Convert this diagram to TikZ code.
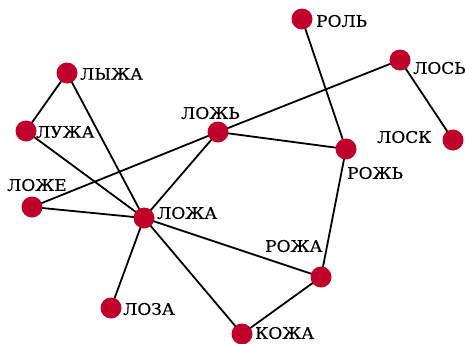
\documentclass[tikz,border=0pt]{standalone}
\usepackage{fontspec}
\setmainfont[FakeStretch=1.06,FakeBold=0.4]{DejaVu Serif}
\definecolor{nodered}{RGB}{192,0,42}
\begin{document}
\begin{tikzpicture}[x=1pt,y=-1pt,
  vtx/.style={circle,fill=nodered,draw=none,minimum size=21pt,inner sep=0pt},
  lbl/.style={inner sep=0pt,font=\fontsize{16}{16}\selectfont,anchor=west},
  edge/.style={line width=1.8pt,black}]
\useasboundingbox (0,0) rectangle (465,343);
\coordinate (pRol) at (302,19);
\coordinate (pLos) at (400,60);
\coordinate (pLosk) at (453,140);
\coordinate (pLyzha) at (67,73);
\coordinate (pLuzha) at (26,131);
\coordinate (pLozh) at (218,132);
\coordinate (pRozh) at (346,149);
\coordinate (pLozhe) at (32,207);
\coordinate (pLozha) at (144,218);
\coordinate (pRozha) at (321,277);
\coordinate (pLoza) at (111,308);
\coordinate (pKozha) at (242,334);
\draw[edge] (pLyzha) -- (pLuzha);
\draw[edge] (pLyzha) -- (pLozha);
\draw[edge] (pLuzha) -- (pLozha);
\draw[edge] (pLozhe) -- (pLozha);
\draw[edge] (pLozhe) -- (pLozh);
\draw[edge] (pLozh) -- (pLozha);
\draw[edge] (pLozh) -- (pLos);
\draw[edge] (pLozh) -- (pRozh);
\draw[edge] (pRol) -- (pRozh);
\draw[edge] (pLos) -- (pLosk);
\draw[edge] (pRozh) -- (pRozha);
\draw[edge] (pLozha) -- (pRozha);
\draw[edge] (pLozha) -- (pLoza);
\draw[edge] (pLozha) -- (pKozha);
\draw[edge] (pKozha) -- (pRozha);
\foreach \p in {pRol,pLos,pLosk,pLyzha,pLuzha,pLozh,pRozh,pLozhe,pLozha,pRozha,pLoza,pKozha}
  \node[vtx] (n\p) at (\p) {};
\node[lbl] (tRol) at (316,21) {РОЛЬ};
\node[lbl] (tLos) at (413,68) {ЛОСЬ};
\node[lbl] (tLosk) at (377,137) {ЛОСК};
\node[lbl] (tLyzha) at (80,74) {ЛЫЖА};
\node[lbl] (tLuzha) at (36,132) {ЛУЖА};
\node[lbl] (tLozh) at (181,113) {ЛОЖЬ};
\node[lbl] (tRozh) at (347,173) {РОЖЬ};
\node[lbl] (tLozhe) at (7,185) {ЛОЖЕ};
\node[lbl] (tLozha) at (157,213) {ЛОЖА};
\node[lbl] (tRozha) at (265,246) {РОЖА};
\node[lbl] (tLoza) at (123,309) {ЛОЗА};
\node[lbl] (tKozha) at (255,333) {КОЖА};
\end{tikzpicture}
\end{document}
